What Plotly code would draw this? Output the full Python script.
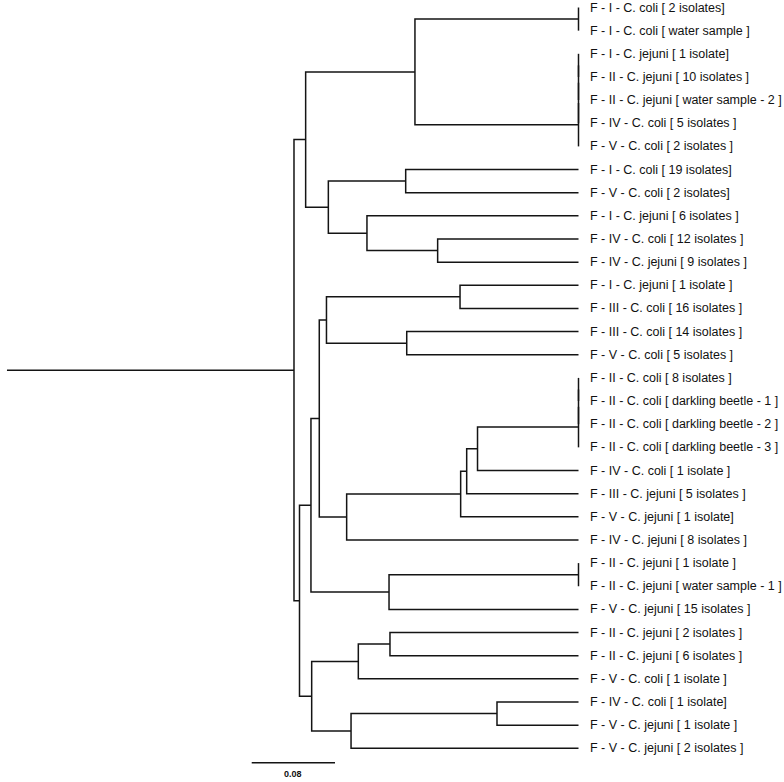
import plotly.graph_objects as go

# ---- data -------------------------------------------------------------
leaf_labels = [
    "F - I - C. coli [ 2 isolates]",
    "F - I - C. coli [ water sample ]",
    "F - I - C. jejuni [ 1 isolate]",
    "F - II - C. jejuni [ 10 isolates ]",
    "F - II - C. jejuni [ water sample - 2 ]",
    "F - IV - C. coli [ 5 isolates ]",
    "F - V - C. coli [ 2 isolates ]",
    "F - I - C. coli [ 19 isolates]",
    "F - V - C. coli [ 2 isolates]",
    "F - I - C. jejuni [ 6 isolates ]",
    "F - IV - C. coli [ 12 isolates ]",
    "F - IV - C. jejuni [ 9 isolates ]",
    "F - I - C. jejuni [ 1 isolate ]",
    "F - III - C. coli [ 16 isolates ]",
    "F - III - C. coli [ 14 isolates ]",
    "F - V - C. coli [ 5 isolates ]",
    "F - II - C. coli [ 8 isolates ]",
    "F - II - C. coli [ darkling beetle - 1 ]",
    "F - II - C. coli [ darkling beetle - 2 ]",
    "F - II - C. coli [ darkling beetle - 3 ]",
    "F - IV - C. coli [ 1 isolate ]",
    "F - III - C. jejuni [ 5 isolates ]",
    "F - V - C. jejuni [ 1 isolate]",
    "F - IV - C. jejuni [ 8 isolates ]",
    "F - II - C. jejuni [ 1 isolate ]",
    "F - II - C. jejuni [ water sample - 1 ]",
    "F - V - C. jejuni [ 15 isolates ]",
    "F - II - C. jejuni [ 2 isolates ]",
    "F - II - C. jejuni [ 6 isolates ]",
    "F - V - C. coli [ 1 isolate ]",
    "F - IV - C. coli [ 1 isolate]",
    "F - V - C. jejuni [ 1 isolate ]",
    "F - V - C. jejuni [ 2 isolates ]",
]

# internal nodes (children are leaf indices or node names), heights in tree units
node_names = ["a12", "g34", "g345", "g3456", "g37", "A1", "A2a", "n1112", "A2b", "A2", "A",
              "n1314", "n1516", "N13_16", "d1718", "d1719", "d1720", "N17_21", "N17_22",
              "N17_23", "N17_24", "B1a", "w2526", "B1b", "B1", "n2829", "B2a", "n3132",
              "B2b", "B2", "B", "R"]
node_left = [0, 2, "g34", "g345", "g3456", "a12", 7, 10, 9, "A2a", "A1",
             12, 14, "n1314", 16, "d1718", "d1719", "d1720", "N17_21",
             "N17_22", "N17_23", "N13_16", 24, "w2526", "B1a", 27, "n2829", 30,
             "n3132", "B2a", "B1", "A"]
node_right = [1, 3, 4, 5, 6, "g37", 8, 11, "n1112", "A2b", "A2",
              13, 15, "n1516", 17, 18, 19, 20, 21,
              22, 23, "N17_24", 25, 26, "B1b", 28, 29, 31,
              32, "B2b", "B2", "B"]
node_height = [0.0, 0.0, 0.0, 0.0, 0.0, 0.1571, 0.1660, 0.1353, 0.2032, 0.2403, 0.2621,
               0.1138, 0.1650, 0.2421, 0.0, 0.0, 0.0, 0.0970, 0.1074,
               0.1132, 0.2227, 0.2490, 0.0, 0.1820, 0.2570, 0.1811, 0.2115, 0.0783,
               0.2185, 0.2563, 0.2680, 0.2733]
root_stem_height = 0.549
scale_length = 0.08
scale_label = "0.08"

# ---- layout of the tree ---------------------------------------------------
pos = {}
for i in range(len(leaf_labels)):
    pos[i] = (0.0, float(i))
for name, l, r, h in zip(node_names, node_left, node_right, node_height):
    pos[name] = (h, (pos[l][1] + pos[r][1]) / 2.0)

xs, ys = [], []
for name, l, r, h in zip(node_names, node_left, node_right, node_height):
    (lx, ly), (rx, ry) = pos[l], pos[r]
    xs += [lx, h, h, rx, None]
    ys += [ly, ly, ry, ry, None]
rx_, ry_ = pos["R"]
xs += [root_stem_height, rx_, None]
ys += [ry_, ry_, None]

line_color = "#141414"
fig = go.Figure()
fig.add_trace(go.Scatter(x=xs, y=ys, mode="lines",
                         line=dict(color=line_color, width=1.5),
                         hoverinfo="skip", showlegend=False))

# scale bar
sb_start = 0.3139
sb_y = 32.62
fig.add_trace(go.Scatter(x=[sb_start, sb_start - scale_length], y=[sb_y, sb_y], mode="lines",
                         line=dict(color=line_color, width=1.5),
                         hoverinfo="skip", showlegend=False))
fig.add_annotation(x=sb_start - scale_length / 2, y=33.11, text="<b>" + scale_label + "</b>",
                   showarrow=False, xanchor="center", yanchor="middle",
                   font=dict(family="Liberation Sans, Arial", size=9, color="#111111"))

for i, lab in enumerate(leaf_labels):
    fig.add_annotation(x=-0.0091, y=i, text=lab, showarrow=False,
                       xanchor="left", yanchor="middle",
                       font=dict(family="Liberation Sans, Arial", size=12.5, color="#111111"))

fig.update_layout(
    width=784, height=782,
    margin=dict(l=0, r=0, t=0, b=0),
    paper_bgcolor="white", plot_bgcolor="white",
    hovermode=False,
    xaxis=dict(range=[0.5557, -0.1974], visible=False, showgrid=False, zeroline=False),
    yaxis=dict(range=[33.456, -0.324], visible=False, showgrid=False, zeroline=False),
)
fig.write_html("out.html",
               config={"displayModeBar": False, "staticPlot": True},
               post_script="document.body.style.margin='0';document.body.style.overflow='hidden';")
